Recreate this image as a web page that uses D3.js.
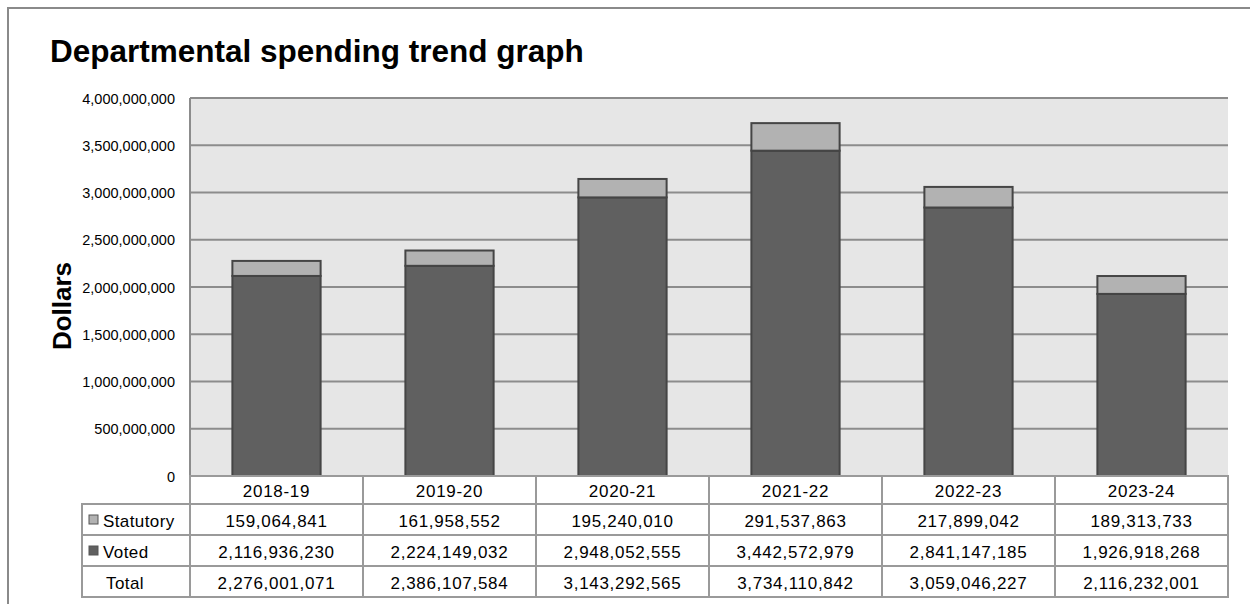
<!DOCTYPE html>
<html><head><meta charset="utf-8">
<script src="https://cdn.jsdelivr.net/npm/d3@7"></script>
<style>
html,body{margin:0;padding:0;background:#fff;}
svg{display:block;font-family:"Liberation Sans",Arial,sans-serif;}
</style></head>
<body>
<svg id="chart" width="1250" height="604"></svg>
<script>
const years = ["2018-19","2019-20","2020-21","2021-22","2022-23","2023-24"];
const statutory = [159064841,161958552,195240010,291537863,217899042,189313733];
const voted = [2116936230,2224149032,2948052555,3442572979,2841147185,1926918268];
const totals = [2276001071,2386107584,3143292565,3734110842,3059046227,2116232001];
const yTicks = [0,500000000,1000000000,1500000000,2000000000,2500000000,3000000000,3500000000,4000000000];
const seriesNames = ["Statutory","Voted","Total"];
const seriesColors = {Statutory:"#b2b2b2", Voted:"#606060"};

const svg = d3.select("#chart");
const L = 190, R = 1228, T = 98, B = 476;
const rowH = [28, 31, 31, 31];

// outer frame
svg.append("rect").attr("x",8).attr("y",8).attr("width",1260).attr("height",620)
  .attr("fill","#fff").attr("stroke","#8a8a8a").attr("stroke-width",2);

svg.append("text").attr("x",50).attr("y",62).attr("font-size",31.5).attr("font-weight","bold")
  .attr("fill","#000").text("Departmental spending trend graph");

const y = d3.scaleLinear().domain([0,4000000000]).range([B,T]);
const x = d3.scaleBand().domain(years).range([L,R]).paddingInner(0.49).paddingOuter(0.245);
const col = d3.scaleBand().domain(years).range([L,R]).padding(0);

// plot background
svg.append("rect").attr("x",L).attr("y",T).attr("width",R-L).attr("height",B-T).attr("fill","#e6e6e6");

// gridlines
svg.append("g").selectAll("line").data(yTicks.filter(d=>d>0)).join("line")
  .attr("x1",L).attr("x2",R).attr("y1",d=>y(d)).attr("y2",d=>y(d))
  .attr("stroke","#8c8c8c").attr("stroke-width",2);

// y axis labels
const yAxis = d3.axisLeft(y).tickValues(yTicks).tickSize(0).tickPadding(15)
  .tickFormat(d=>d3.format(",")(d));
const ga = svg.append("g").attr("transform",`translate(${L},0)`).call(yAxis);
ga.select(".domain").remove();
ga.selectAll("text").attr("font-size",14.5).attr("fill","#000")
  .attr("font-family","'Liberation Sans',Arial,sans-serif").attr("dy","0.36em");

svg.append("line").attr("x1",L).attr("x2",L).attr("y1",T).attr("y2",B)
  .attr("stroke","#8c8c8c").attr("stroke-width",2);

// bars
const bars = svg.append("g");
bars.selectAll("rect.v").data(years).join("rect").attr("class","v")
  .attr("x",d=>x(d)).attr("width",x.bandwidth())
  .attr("y",(d,i)=>y(voted[i])).attr("height",(d,i)=>y(0)-y(voted[i]))
  .attr("fill",seriesColors.Voted).attr("stroke","#454545").attr("stroke-width",2);
bars.selectAll("rect.s").data(years).join("rect").attr("class","s")
  .attr("x",d=>x(d)).attr("width",x.bandwidth())
  .attr("y",(d,i)=>y(voted[i]+statutory[i])).attr("height",(d,i)=>y(voted[i])-y(voted[i]+statutory[i]))
  .attr("fill",seriesColors.Statutory).attr("stroke","#454545").attr("stroke-width",2);

// y title
svg.append("text").attr("transform","translate(71,306) rotate(-90)").attr("text-anchor","middle")
  .attr("font-size",26).attr("font-weight","bold").attr("fill","#000").text("Dollars");

// data table
const rowY = [B];
rowH.forEach((h,i)=>rowY.push(rowY[i]+h));
const tbl = svg.append("g").attr("font-size",17).attr("letter-spacing",0.7);
const fmt = d3.format(",");
tbl.selectAll("rect.h").data(years).join("rect").attr("class","h")
  .attr("x",d=>col(d)).attr("y",rowY[0]).attr("width",col.bandwidth()).attr("height",rowH[0])
  .attr("fill","#fff").attr("stroke","#9a9a9a").attr("stroke-width",2);
tbl.selectAll("text.h").data(years).join("text").attr("class","h")
  .attr("x",d=>col(d)+col.bandwidth()/2).attr("y",rowY[0]+rowH[0]/2+7)
  .attr("text-anchor","middle").text(d=>d);
const rows = [statutory, voted, totals];
rows.forEach((vals,r)=>{
  const yy = rowY[r+1], hh = rowH[r+1];
  tbl.append("rect").attr("x",82).attr("y",yy).attr("width",L-82).attr("height",hh)
    .attr("fill","#fff").attr("stroke","#9a9a9a").attr("stroke-width",2);
  tbl.selectAll(null).data(years).join("rect")
    .attr("x",d=>col(d)).attr("y",yy).attr("width",col.bandwidth()).attr("height",hh)
    .attr("fill","#fff").attr("stroke","#9a9a9a").attr("stroke-width",2);
  tbl.selectAll(null).data(vals).join("text")
    .attr("x",(d,i)=>col(years[i])+col.bandwidth()/2).attr("y",yy+hh/2+7)
    .attr("text-anchor","middle").text(d=>fmt(d));
  const name = seriesNames[r];
  if (seriesColors[name]) {
    tbl.append("rect").attr("x",89).attr("y",yy+hh/2-4.5).attr("width",9).attr("height",9)
      .attr("fill",seriesColors[name]).attr("stroke","#555").attr("stroke-width",1);
  }
  tbl.append("text").attr("x",seriesColors[name]?103:106).attr("y",yy+hh/2+7)
    .attr("letter-spacing",0.4).text(name);
});
</script>
</body></html>
